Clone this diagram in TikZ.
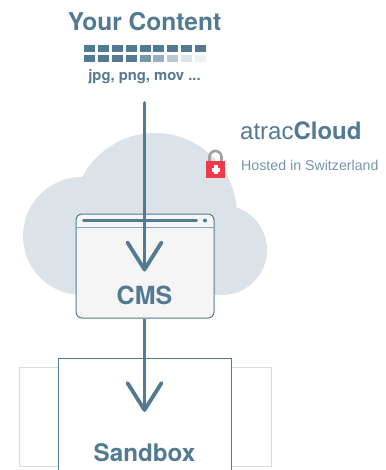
\documentclass[tikz,border=0pt]{standalone}
\usepackage{fontspec}
\setmainfont{TeX Gyre Heros}
\newfontfamily\lightfont{Liberation Sans}
\usetikzlibrary{calc}
\definecolor{steel}{HTML}{527A92}
\definecolor{steelb}{HTML}{8AA5B5}
\definecolor{steelt}{HTML}{7396AB}
\definecolor{cloudc}{HTML}{DBE3E9}
\definecolor{winbg}{HTML}{F5F5F5}
\definecolor{backline}{HTML}{D3DDE4}
\definecolor{lockred}{HTML}{EF3B48}
\definecolor{lockgray}{HTML}{A0A0A0}
\tikzset{
  title/.style={font=\bfseries\fontsize{24.5}{24.5}\selectfont,text=steel,inner sep=0pt,anchor=base},
  boxlabel/.style={font=\bfseries\fontsize{24.2}{24.2}\selectfont,text=steel,inner sep=0pt,anchor=base},
  flow/.style={draw=steel,line width=3.8pt,line cap=round,line join=round},
  backbox/.style={draw=backline,line width=0.9pt,fill=white,inner sep=0pt},
  tile/.style={minimum width=11pt,minimum height=7pt,inner sep=0pt,draw=none,fill=#1},
}
\begin{document}
\begin{tikzpicture}[x=1pt,y=-1pt]
\useasboundingbox (0,0) rectangle (385,470);
% cloud
\fill[cloudc] (82,236) circle (59);
\fill[cloudc] (155,215) circle (82);
\fill[cloudc] (222,250) circle (45);
\fill[cloudc] (82,240) rectangle (222,295);
% title
\node[title] (content) at (144.5,30.5) {Your Content};
\foreach \i in {0,...,8} {
  \node[tile=steel] (r\i) at ({89.5+13.875*\i},48.5) {};
}
\foreach \i/\c in {0/steel,1/steel,2/steel,3/steel,4/steel!80!white,5/steel!60!white,6/steel!40!white,7/steel!20!white,8/steel!10!white} {
  \node[tile=\c] (s\i) at ({89.5+13.875*\i},58.5) {};
}
\node[inner sep=0pt,anchor=base,text=steel,font=\bfseries\fontsize{14.8}{14.8}\selectfont] (types) at (144.5,81) {jpg, png, mov ...};
% atracCloud
\node[inner sep=0pt,anchor=base west,text=steel,font=\fontsize{24}{24}\selectfont] (brand) at (240,140) {{\lightfont atrac}\textbf{Cloud}};
\node[inner sep=0pt,anchor=base west,text=steelt,font=\lightfont\fontsize{14.2}{14.2}\selectfont] (hosted) at (241,170.5) {Hosted in Switzerland};
% lock
\draw[lockgray,line width=2.6pt] (209.5,162) -- (209.5,157) arc[start angle=180,end angle=360,radius=6] -- (221.5,162);
\node[minimum width=19pt,minimum height=17pt,inner sep=0pt,fill=lockred] (lock) at (215.5,169.5) {};
\fill[white] (214,165.5) rectangle (218,174);
\fill[white] (211.7,167.8) rectangle (220.3,171.7);
% back box
\node[backbox,minimum width=252pt,minimum height=99pt] (back) at (145,416.5) {};
% sandbox
\node[draw=steel,line width=1.1pt,fill=white,minimum width=173pt,minimum height=140pt,inner sep=0pt] (sandbox) at (144.75,428.5) {};
\node[boxlabel] (sandboxlabel) at (144.5,461) {Sandbox};
% window
\node[draw=steel,line width=1pt,fill=winbg,rounded corners=6pt,minimum width=138pt,minimum height=104pt,inner sep=0pt] (cms) at (145,266) {};
\draw[steelb,line width=1pt] ($(cms.north west)+(0,14)$) -- ($(cms.north east)+(0,14)$);
\draw[steel,line width=3pt,line cap=round] ($(cms.north west)+(8,7)$) -- ($(cms.north west)+(121,7)$);
\fill[steel] ($(cms.north west)+(129.5,7)$) circle (2);
\node[boxlabel,font=\bfseries\fontsize{25}{25}\selectfont] (cmslabel) at (144.5,304) {CMS};
% arrows
\coordinate (start) at (144.5,103);
\coordinate (tip1) at (144.5,269.5);
\coordinate (tip2) at (144.5,410);
\draw[flow] (start) -- (tip1);
\draw[flow] ($(tip1)+(-17,-27)$) -- (tip1) -- ($(tip1)+(17,-27)$);
\draw[flow,line cap=butt] (cms.south -| tip2) -- (tip2);
\draw[flow] ($(tip2)+(-17,-27)$) -- (tip2) -- ($(tip2)+(17,-27)$);
\end{tikzpicture}
\end{document}
